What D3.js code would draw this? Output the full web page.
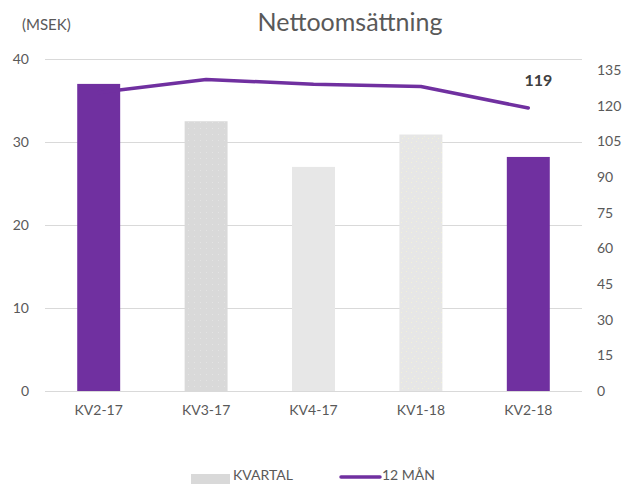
<!DOCTYPE html>
<html>
<head>
<meta charset="utf-8">
<script src="https://cdn.jsdelivr.net/npm/d3@7"></script>
<style>
  body { margin: 0; background: #fff; }
  text { font-family: Lato, "Open Sans", sans-serif; fill: #595959; }
</style>
</head>
<body>
<div class="chart"></div>
<script>
var categories = ["KV2-17", "KV3-17", "KV4-17", "KV1-18", "KV2-18"];
var kvartal = [37.0, 32.5, 27.0, 30.9, 28.2];
var tolvMan = [125.5, 131, 129, 128, 119];
var leftTicks = [0, 10, 20, 30, 40];
var rightTicks = [0, 15, 30, 45, 60, 75, 90, 105, 120, 135];

var width = 627, height = 484;

var svg = d3.select(".chart").append("svg")
    .attr("width", width)
    .attr("height", height);

var defs = svg.append("defs");
// faint dotted textures for two of the grey bars
var p1 = defs.append("pattern")
    .attr("id", "dots1")
    .attr("width", 6).attr("height", 6)
    .attr("patternUnits", "userSpaceOnUse");
p1.append("rect").attr("width", 6).attr("height", 6).attr("fill", "#d9d9d9");
p1.append("rect").attr("x", 2).attr("y", 2).attr("width", 1).attr("height", 1).attr("fill", "#e4e4e4");

var p2 = defs.append("pattern")
    .attr("id", "dots2")
    .attr("width", 10).attr("height", 10)
    .attr("patternUnits", "userSpaceOnUse");
p2.append("rect").attr("width", 10).attr("height", 10).attr("fill", "#e6e6e6");
[[1, 2], [6, 1], [4, 6], [8, 8], [2, 8]].forEach(function (d) {
  p2.append("rect").attr("x", d[0]).attr("y", d[1]).attr("width", 1).attr("height", 1).attr("fill", "#f3f2d6");
});

var barFills = ["#7030a0", "url(#dots1)", "#e7e7e7", "url(#dots2)", "#7030a0"];

var x0 = 45, x1 = 582;
var xScale = d3.scaleBand()
    .domain(categories)
    .range([x0, x1])
    .paddingInner(0.6)
    .paddingOuter(0.3);

var yLeft = d3.scaleLinear()
    .domain([0, 40])
    .range([391, 59]);

var yRight = d3.scaleLinear()
    .domain([0, 139.6])
    .range([391, 59]);

// gridlines
svg.append("g")
    .selectAll("line")
    .data(leftTicks)
    .enter().append("line")
    .attr("x1", x0).attr("x2", x1)
    .attr("y1", function (d) { return yLeft(d) + 0.5; })
    .attr("y2", function (d) { return yLeft(d) + 0.5; })
    .attr("stroke", "#d9d9d9")
    .attr("stroke-width", 1);

// left axis
var yAxisL = d3.axisLeft(yLeft).tickValues(leftTicks).tickSize(0).tickPadding(0);
var gL = svg.append("g")
    .attr("transform", "translate(29,0)")
    .call(yAxisL);
gL.select(".domain").remove();
gL.selectAll("text").style("font-size", "14px").attr("fill", "#595959");

// right axis
var yAxisR = d3.axisRight(yRight).tickValues(rightTicks).tickSize(0).tickPadding(0);
var gR = svg.append("g")
    .attr("transform", "translate(597,0)")
    .call(yAxisR);
gR.select(".domain").remove();
gR.selectAll("text").style("font-size", "14px").attr("fill", "#595959");

// bottom axis labels
var xAxis = d3.axisBottom(xScale).tickSize(0).tickPadding(0);
var gX = svg.append("g")
    .attr("transform", "translate(0,405)")
    .call(xAxis);
gX.select(".domain").remove();
gX.selectAll("text").style("font-size", "14px").attr("fill", "#595959");

// bars
svg.append("g")
    .selectAll("rect")
    .data(kvartal)
    .enter().append("rect")
    .attr("x", function (d, i) { return xScale(categories[i]); })
    .attr("width", xScale.bandwidth())
    .attr("y", function (d) { return yLeft(d); })
    .attr("height", function (d) { return yLeft(0) - yLeft(d); })
    .attr("fill", function (d, i) { return barFills[i]; });

// 12 month line
var line = d3.line()
    .x(function (d, i) { return xScale(categories[i]) + xScale.bandwidth() / 2; })
    .y(function (d) { return yRight(d); });

svg.append("path")
    .datum(tolvMan)
    .attr("fill", "none")
    .attr("stroke", "#7030a0")
    .attr("stroke-width", 3.5)
    .attr("stroke-linejoin", "round")
    .attr("stroke-linecap", "round")
    .attr("d", line);

var last = tolvMan.length - 1;
svg.append("text")
    .attr("x", xScale(categories[last]) + xScale.bandwidth() / 2 + 10)
    .attr("y", yRight(tolvMan[last]) - 22)
    .attr("text-anchor", "middle")
    .style("font-size", "16px")
    .style("font-weight", "bold")
    .style("fill", "#404040")
    .text(tolvMan[last]);

// titles
svg.append("text")
    .attr("x", 350)
    .attr("y", 31)
    .attr("text-anchor", "middle")
    .style("font-size", "25px")
    .text("Nettoomsättning");

svg.append("text")
    .attr("x", 22)
    .attr("y", 30)
    .style("font-size", "15px")
    .text("(MSEK)");

// legend
var legend = svg.append("g");
legend.append("rect")
    .attr("x", 191).attr("y", 474)
    .attr("width", 39).attr("height", 10)
    .attr("fill", "#d9d9d9");
legend.append("text")
    .attr("x", 233).attr("y", 480)
    .style("font-size", "14px")
    .text("KVARTAL");
legend.append("line")
    .attr("x1", 341).attr("x2", 380)
    .attr("y1", 477).attr("y2", 477)
    .attr("stroke", "#7030a0")
    .attr("stroke-width", 3.5)
    .attr("stroke-linecap", "round");
legend.append("text")
    .attr("x", 382).attr("y", 480)
    .style("font-size", "14px")
    .text("12 MÅN");
</script>
</body>
</html>
